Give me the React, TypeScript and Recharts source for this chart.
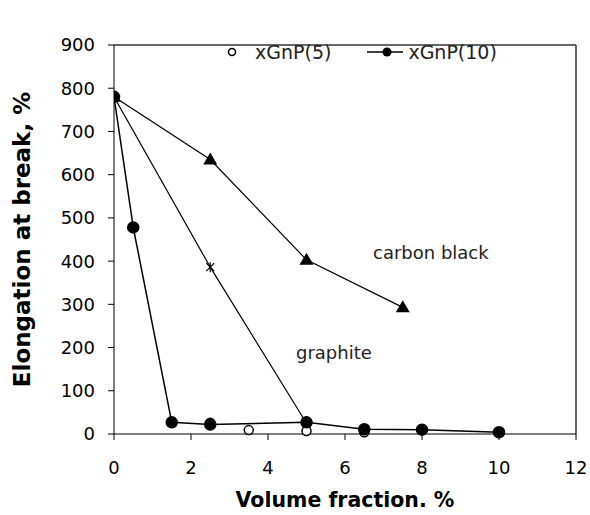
import React from 'react';
import { LineChart, Line, XAxis, YAxis, Legend, ReferenceLine, Label } from 'recharts';

const xTicks = [0, 2, 4, 6, 8, 10, 12];
const yTicks = [0, 100, 200, 300, 400, 500, 600, 700, 800, 900];

const gnp10X = [0, 0.5, 1.5, 2.5, 5, 6.5, 8, 10];
const gnp10Y = [780, 478, 27, 22, 27, 11, 10, 4];

const gnp5X = [0, 2.5, 3.5, 5, 6.5];
const gnp5Y = [780, 26, 9, 7, 4];

const carbonX = [0, 2.5, 5, 7.5];
const carbonY = [780, 635, 403, 293];

const graphiteX = [0, 2.5, 5];
const graphiteY = [780, 386, 25];

const toPoints = (xs: number[], ys: number[]) => xs.map((x, i) => ({ x, y: ys[i] }));

const gnp10 = toPoints(gnp10X, gnp10Y);
const gnp5 = toPoints(gnp5X, gnp5Y);
const carbon = toPoints(carbonX, carbonY);
const graphite = toPoints(graphiteX, graphiteY);

const FONT = '"DejaVu Sans", sans-serif';

const Triangle = (props: any) => {
  const { cx, cy, index } = props;
  if (cx == null || cy == null) return <g key={`t-${index}`} />;
  return <polygon key={`t-${index}`} points={`${cx},${cy - 7} ${cx - 7},${cy + 5} ${cx + 7},${cy + 5}`} fill="#000" />;
};

const Cross = (props: any) => {
  const { cx, cy, index } = props;
  if (cx == null || cy == null) return <g key={`c-${index}`} />;
  return <path key={`c-${index}`} d={`M${cx - 4},${cy - 4}L${cx + 4},${cy + 4}M${cx - 4},${cy + 4}L${cx + 4},${cy - 4}M${cx},${cy - 5}L${cx},${cy + 5}`} stroke="#000" strokeWidth={1.2} />;
};

const legendContent = () => (
  <div style={{ display: 'flex', alignItems: 'center', fontFamily: FONT, fontSize: 19, color: '#222' }}>
    <svg width={20} height={20} style={{ marginRight: 13 }}>
      <circle cx={10} cy={10} r={3.5} fill="#fff" stroke="#000" strokeWidth={1.5} />
    </svg>
    <span>xGnP(5)</span>
    <svg width={38} height={20} style={{ marginLeft: 36, marginRight: 3 }}>
      <line x1={0} y1={10} x2={36} y2={10} stroke="#000" strokeWidth={1.5} />
      <circle cx={20} cy={10} r={4.5} fill="#000" />
    </svg>
    <span>xGnP(10)</span>
  </div>
);

export default function App() {
  return (
    <div style={{ position: 'absolute', left: 0, top: 0, width: 590, height: 515, background: '#fff', fontFamily: FONT }}>
      <LineChart width={590} height={515} margin={{ top: 23, right: 14, left: 0, bottom: 0 }}>
        <XAxis
          type="number"
          dataKey="x"
          domain={[0, 12]}
          ticks={xTicks}
          allowDataOverflow
          height={81}
          tickSize={6}
          tickMargin={21}
          stroke="#000"
          tick={{ fill: '#000', fontSize: 18, fontFamily: FONT }}
        >
          <Label value="Volume fraction. %" position="insideBottom" offset={8} style={{ fontWeight: 'bold', fontSize: 20.5, fill: '#000', fontFamily: FONT }} />
        </XAxis>
        <YAxis
          type="number"
          dataKey="y"
          domain={[0, 900]}
          ticks={yTicks}
          width={114}
          tickSize={6}
          tickMargin={13}
          stroke="#000"
          tick={{ fill: '#000', fontSize: 18, fontFamily: FONT }}
        >
          <Label value="Elongation at break, %" angle={-90} position="insideLeft" offset={22} style={{ textAnchor: 'middle', fontWeight: 'bold', fontSize: 23, fill: '#000', fontFamily: FONT }} />
        </YAxis>
        <ReferenceLine y={900} stroke="#333" strokeWidth={1.5} />
        <ReferenceLine x={12} stroke="#333" strokeWidth={1.5} />
        <Legend
          verticalAlign="top"
          content={legendContent}
          wrapperStyle={{ position: 'absolute', top: 41, left: 222, width: 320 }}
        />
        <Line data={graphite} dataKey="y" name="graphite" stroke="#000" strokeWidth={1.2} dot={Cross} isAnimationActive={false} legendType="none" />
        <Line data={carbon} dataKey="y" name="carbon black" stroke="#000" strokeWidth={1.2} dot={Triangle} isAnimationActive={false} legendType="none" />
        <Line data={gnp5} dataKey="y" name="xGnP(5)" stroke="none" dot={{ r: 4.5, fill: '#fff', stroke: '#000', strokeWidth: 1.5 }} isAnimationActive={false} />
        <Line data={gnp10} dataKey="y" name="xGnP(10)" stroke="#000" strokeWidth={1.5} dot={{ r: 5.5, fill: '#000', stroke: '#000' }} isAnimationActive={false} />
        <text x={373} y={259} fontSize={18} fill="#222" fontFamily={FONT}>carbon black</text>
        <text x={296} y={359} fontSize={18} fill="#222" fontFamily={FONT}>graphite</text>
      </LineChart>
    </div>
  );
}
